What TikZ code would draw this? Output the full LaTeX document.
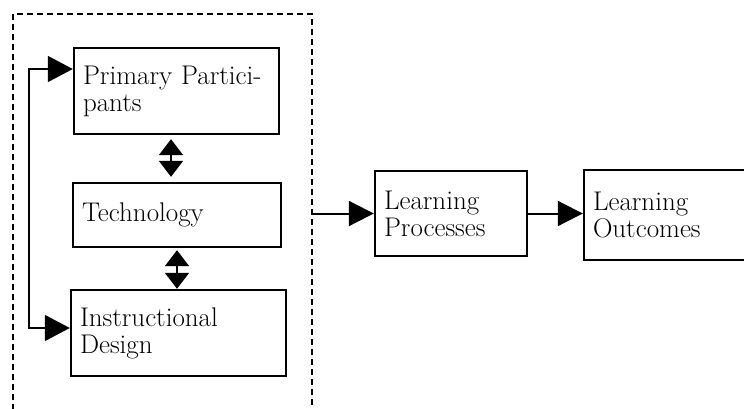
\documentclass[tikz,border=0pt]{standalone}
\usepackage{fontspec}
\usetikzlibrary{arrows.meta}

\tikzset{
  box/.style={draw, line width=2.4pt, inner xsep=9pt, inner ysep=0pt, align=left,
    font=\fontsize{27}{27}\selectfont},
  arr/.style={line width=2pt, -{Triangle[length=25pt,width=25pt]}},
  dbl/.style={line width=2pt, {Triangle[length=16pt,width=24pt]}-{Triangle[length=16pt,width=24pt]}},
  loop/.style={line width=1.8pt, {Triangle[length=25pt,width=26pt]}-{Triangle[length=25pt,width=26pt]}},
}

\begin{document}
\begin{tikzpicture}[x=1pt,y=1pt,yscale=-1,xscale=1]
\useasboundingbox (0,0) rectangle (744,408);

%Dashed frame, open at the bottom
\draw [line width=1.4pt, dash pattern=on 6pt off 4pt] (13,420) -- (13,14) -- (312,14) -- (312,420) ;

% Boxes
\node [box, text width=187pt, minimum height=86pt] (pp) at (176.5,91) {Primary Partici-\\pants};
\node [box, text width=190pt, minimum height=64pt] (tech) at (177,215) {Technology};
\node [box, text width=197pt, minimum height=86pt] (id) at (178.5,333) {Instructional\\Design};
\node [box, text width=134pt, minimum height=85pt] (lp) at (451,213.5) {Learning\\Processes};
\node [box, text width=152pt, minimum height=90pt] (lo) at (669,215) {Learning\\Outcomes};

\coordinate (grp) at (312,213.5);
\coordinate (bend) at (29,328);

% Arrows (yscale=-1 flips the shifts too)
\draw [dbl] ([xshift=-5.5pt,yshift=4pt]pp.south) -- ([xshift=-5.5pt,yshift=-5pt]pp.south |- tech.north);
\draw [dbl] ([yshift=2pt]tech.south) -- (tech.south |- id.north);
\draw [loop] ([yshift=-22pt]pp.west) -| (bend) -- ([yshift=-5pt]id.west);
\draw [arr] (grp) -- (lp.west);
\draw [arr] (lp.east) -- (lp.east -| lo.west);

\end{tikzpicture}
\end{document}
